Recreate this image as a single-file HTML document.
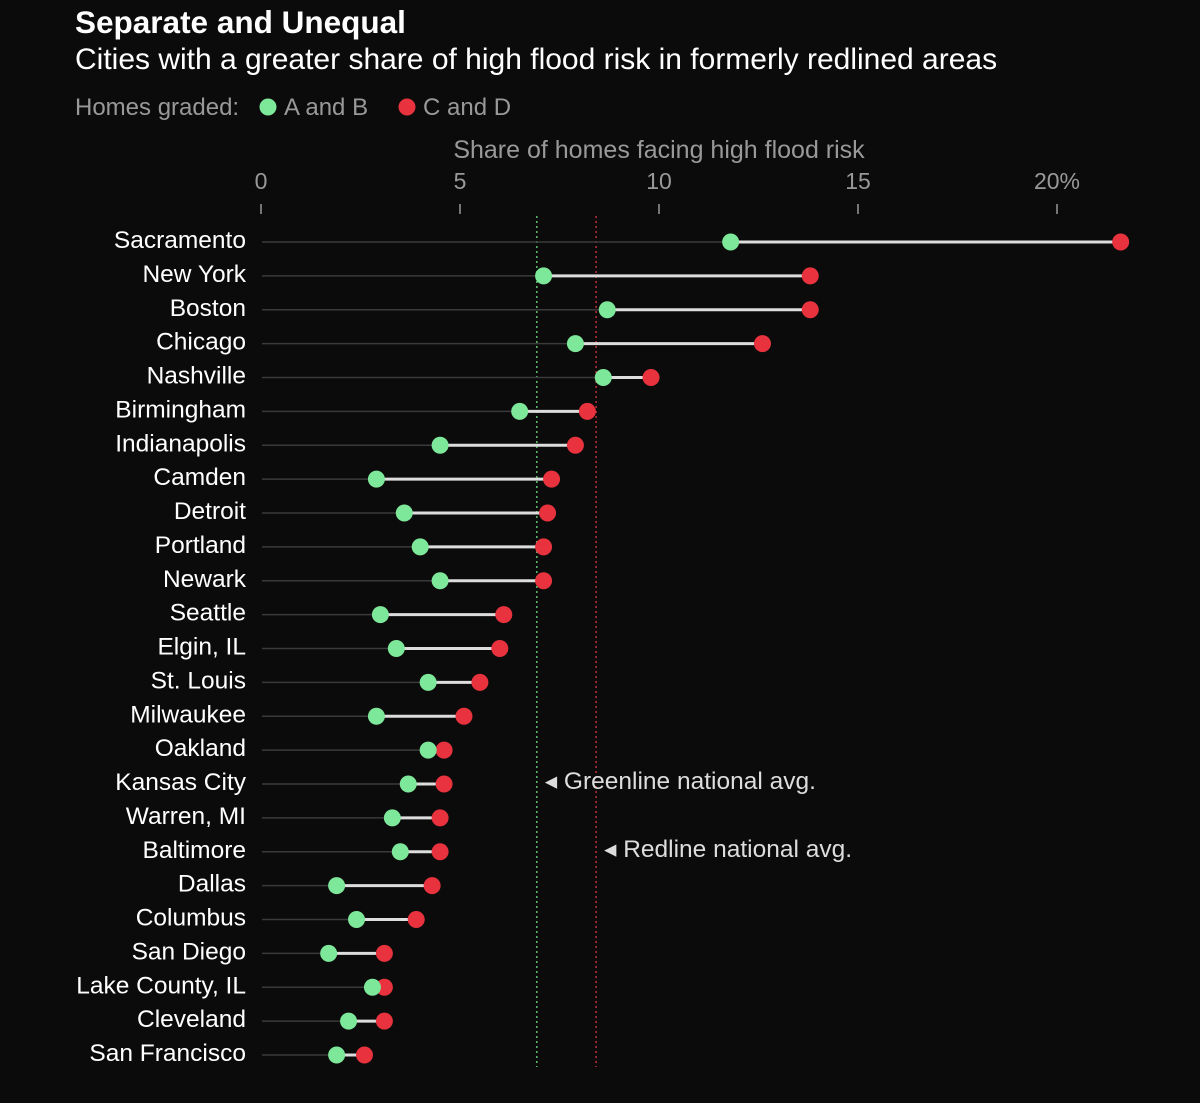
<!DOCTYPE html>
<html><head><meta charset="utf-8"><style>
body{margin:0;background:#0b0b0b;width:1200px;height:1098px;overflow:hidden;font-family:"Liberation Sans",sans-serif;}
</style></head><body>
<svg width="1200" height="1098" xmlns="http://www.w3.org/2000/svg">
<rect width="1200" height="1098" fill="#0b0b0b"/>
<text x="75" y="33" fill="#fff" font-size="31.5" font-weight="bold">Separate and Unequal</text>
<text x="75" y="69" fill="#fff" font-size="30">Cities with a greater share of high flood risk in formerly redlined areas</text>
<g font-size="24">
<text x="75" y="115" fill="#999">Homes graded:</text>
<circle cx="268" cy="107" r="8.5" fill="#7ee89a"/>
<text x="284" y="115" fill="#999">A and B</text>
<circle cx="407" cy="107" r="8.5" fill="#e8333f"/>
<text x="423" y="115" fill="#999">C and D</text>
</g>
<text x="659" y="158" fill="#999" font-size="25" text-anchor="middle">Share of homes facing high flood risk</text>
<g id="axis"></g>
<g id="marks"></g>
</svg>
<script>
const cities=["Sacramento","New York","Boston","Chicago","Nashville","Birmingham","Indianapolis","Camden","Detroit","Portland","Newark","Seattle","Elgin, IL","St. Louis","Milwaukee","Oakland","Kansas City","Warren, MI","Baltimore","Dallas","Columbus","San Diego","Lake County, IL","Cleveland","San Francisco"];
const greenVals=[11.8,7.1,8.7,7.9,8.6,6.5,4.5,2.9,3.6,4.0,4.5,3.0,3.4,4.2,2.9,4.2,3.7,3.3,3.5,1.9,2.4,1.7,2.8,2.2,1.9];
const redVals=[21.6,13.8,13.8,12.6,9.8,8.2,7.9,7.3,7.2,7.1,7.1,6.1,6.0,5.5,5.1,4.6,4.6,4.5,4.5,4.3,3.9,3.1,3.1,3.1,2.6];
const ticks=[0,5,10,15,20];
const tickLabels=["0","5","10","15","20%"];
const greenAvg=6.93;
const redAvg=8.42;
const NS="http://www.w3.org/2000/svg";
const x=v=>261+v*39.8;
const y=i=>242+i*33.875;
function mk(tag,attrs,parent,txt){const e=document.createElementNS(NS,tag);for(const k in attrs)e.setAttribute(k,attrs[k]);if(txt!==undefined)e.textContent=txt;parent.appendChild(e);return e;}
const ax=document.getElementById('axis'),mg=document.getElementById('marks');
ticks.forEach((t,i)=>{
 const tx=mk('text',{x:x(t),y:189,fill:'#999','font-size':23,'text-anchor':'middle'},ax,tickLabels[i]);
 
 
 const tl=mk('line',{x1:x(t),x2:x(t),y1:204,y2:214,stroke:'#999','stroke-width':1.5},ax);
 
 
});
const yEnd=y(cities.length-1)+12;
const ga=mk('line',{x1:x(greenAvg),x2:x(greenAvg),y1:216,y2:yEnd,stroke:'#5fbf6f','stroke-width':1.5,'stroke-dasharray':'2 3'},ax);


const ra=mk('line',{x1:x(redAvg),x2:x(redAvg),y1:216,y2:yEnd,stroke:'#c0303a','stroke-width':1.5,'stroke-dasharray':'2 3'},ax);


const gl=mk('text',{x:x(greenAvg)+8,y:y(16)+5,fill:'#ddd','font-size':24.5},ax,'◂ Greenline national avg.');


const rl=mk('text',{x:x(redAvg)+8,y:y(18)+5,fill:'#ddd','font-size':24.5},ax,'◂ Redline national avg.');


cities.forEach((c,i)=>{
 const yy=y(i);
 const lab=mk('text',{x:246,y:yy+6,fill:'#fff','font-size':24.5,'text-anchor':'end'},mg,c);
 
 
 const lo=Math.min(greenVals[i],redVals[i]),hi=Math.max(greenVals[i],redVals[i]);
 const tr=mk('line',{x1:262,x2:x(lo),y1:yy,y2:yy,stroke:'#3a3a3a','stroke-width':1.5},mg);
 
 
 const seg=mk('line',{x1:x(lo),x2:x(hi),y1:yy,y2:yy,stroke:'#ddd','stroke-width':3},mg);
 
 
 const r=mk('circle',{cx:x(redVals[i]),cy:yy,r:8.5,fill:'#e8333f'},mg);
 
 
 const g=mk('circle',{cx:x(greenVals[i]),cy:yy,r:8.5,fill:'#7ee89a'},mg);
 
 
});
</script>
</body></html>
